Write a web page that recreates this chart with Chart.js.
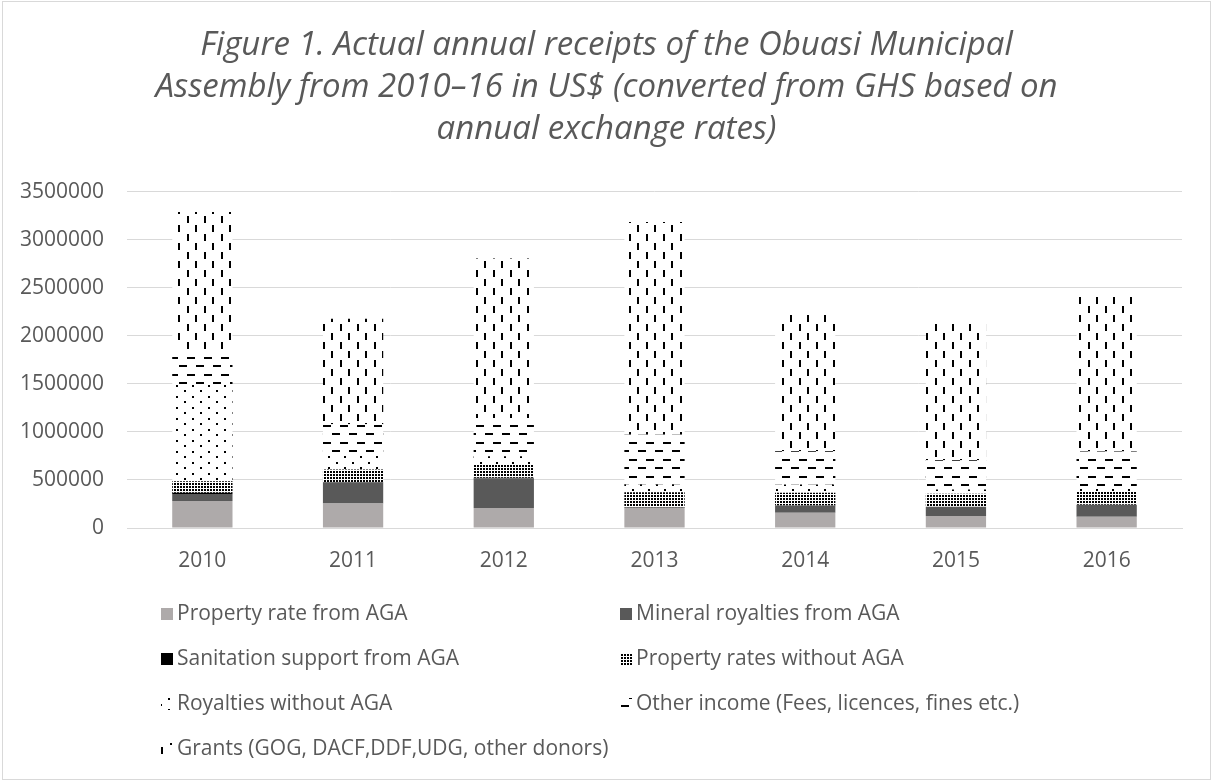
<!DOCTYPE html>
<html>
<head>
<meta charset="utf-8">
<script src="https://cdn.jsdelivr.net/npm/chart.js@4.4.0/dist/chart.umd.min.js"></script>
<style>
  html, body { margin: 0; padding: 0; background: #fff; }
  #wrap { width: 1213px; height: 782px; }
</style>
</head>
<body>
<div id="wrap"><canvas id="myChart" width="1213" height="782"></canvas></div>
<script>
const years = ["2010", "2011", "2012", "2013", "2014", "2015", "2016"]
const propertyRateAGA = [280000, 256000, 207000, 207000, 159000, 124000, 118000]
const mineralRoyaltiesAGA = [75000, 214000, 312000, 8000, 76000, 97000, 124000]
const sanitationAGA = [12000, 5000, 3000, 2000, 0, 0, 0]
const propertyRatesNoAGA = [120000, 135000, 138000, 155000, 131000, 135000, 138000]
const royaltiesNoAGA = [1013000, 150000, 86000, 80000, 87000, 45000, 52000]
const otherIncome = [353000, 320000, 398000, 519000, 346000, 304000, 363000]
const grants = [1435000, 1097000, 1661000, 2214000, 1418000, 1426000, 1609000]
const yTicks = [0, 500000, 1000000, 1500000, 2000000, 2500000, 3000000, 3500000]

const titleLines = [
  "Figure 1. Actual annual receipts of the Obuasi Municipal",
  "Assembly from 2010\u201316 in US$ (converted from GHS based on",
  "annual exchange rates)"
]

const textGray = "#595959"
const gridGray = "#D9D9D9"
const fontName = "'Open Sans'"

const canvas = document.getElementById("myChart")
const ctx = canvas.getContext("2d")

// small tiles for the excel style fill patterns
function tile(w, h, draw) {
  const c = document.createElement("canvas")
  c.width = w
  c.height = h
  const g = c.getContext("2d")
  g.fillStyle = "#fff"
  g.fillRect(0, 0, w, h)
  g.fillStyle = "#000"
  draw(g)
  return ctx.createPattern(c, "repeat")
}

const densePattern = tile(3, 3, g => {
  g.fillRect(0, 0, 2, 2)
})
const dotsPattern = tile(16, 11, g => {
  g.fillRect(0, 0, 2, 2)
  g.fillRect(8, 5, 2, 2)
})
const hDashPattern = tile(17, 17, g => {
  g.fillRect(0, 0, 8, 2)
  g.fillRect(9, 8, 8, 2)
})
const vDashPattern = tile(17, 18, g => {
  g.fillRect(0, 0, 2, 7)
  g.fillRect(8, 9, 2, 7)
})

const series = [
  { label: "Property rate from AGA", data: propertyRateAGA, fill: "#AEAAAA" },
  { label: "Mineral royalties from AGA", data: mineralRoyaltiesAGA, fill: "#595959" },
  { label: "Sanitation support from AGA", data: sanitationAGA, fill: "#000000" },
  { label: "Property rates without AGA", data: propertyRatesNoAGA, fill: densePattern },
  { label: "Royalties without AGA", data: royaltiesNoAGA, fill: dotsPattern },
  { label: "Other income (Fees, licences, fines etc.)", data: otherIncome, fill: hDashPattern },
  { label: "Grants (GOG, DACF,DDF,UDG, other donors)", data: grants, fill: vDashPattern }
]

// two column legend like the excel one
const gridLegend = {
  id: "gridLegend",
  afterDraw(chart) {
    const c = chart.ctx
    const cols = [161, 620]
    const rowTop = 614
    const rowGap = 45
    c.save()
    c.font = "21px " + fontName
    c.textBaseline = "middle"
    c.textAlign = "left"
    chart.data.datasets.forEach((ds, i) => {
      const x = cols[i % 2]
      const y = rowTop + Math.floor(i / 2) * rowGap
      c.fillStyle = ds.backgroundColor
      c.fillRect(x, y - 6, 12, 12)
      c.fillStyle = textGray
      c.fillText(ds.label, x + 16, y)
    })
    c.strokeStyle = gridGray
    c.lineWidth = 1
    c.strokeRect(2.5, 1.5, chart.width - 5, chart.height - 4)
    c.restore()
  }
}

new Chart(ctx, {
  type: "bar",
  data: {
    labels: years,
    datasets: series.map(s => ({
      label: s.label,
      data: s.data,
      backgroundColor: s.fill,
      borderWidth: 0,
      categoryPercentage: 0.4,
      barPercentage: 1
    }))
  },
  options: {
    responsive: false,
    animation: false,
    layout: { padding: 0 },
    plugins: {
      legend: { display: false },
      tooltip: { enabled: false },
      title: {
        display: true,
        text: titleLines,
        color: textGray,
        font: { family: fontName, size: 33, style: "italic", weight: "normal", lineHeight: 1.27 },
        padding: { top: 25, bottom: 41 }
      }
    },
    scales: {
      x: {
        stacked: true,
        grid: { display: false, drawTicks: false },
        border: { display: true, color: gridGray },
        ticks: { color: textGray, font: { family: fontName, size: 21 }, padding: 20 },
        afterFit: s => { s.height = 254 }
      },
      y: {
        stacked: true,
        min: 0,
        max: 3500000,
        afterBuildTicks: s => { s.ticks = yTicks.map(v => ({ value: v })) },
        grid: { color: gridGray, drawTicks: false },
        border: { display: false },
        ticks: {
          color: textGray,
          font: { family: fontName, size: 21 },
          padding: 23,
          callback: v => String(v)
        },
        afterFit: s => { s.width = 127 }
      },
      // empty right side gutter so the title stays centred on the page
      gutter: {
        position: "right",
        grid: { display: false, drawTicks: false },
        border: { display: false },
        ticks: { display: false },
        afterFit: s => { s.width = 31 }
      }
    }
  },
  plugins: [gridLegend]
})
</script>
</body>
</html>
